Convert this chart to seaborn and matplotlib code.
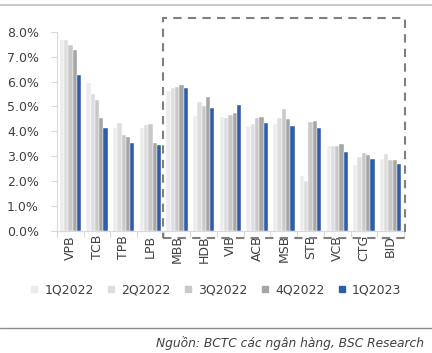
import matplotlib
matplotlib.use("Agg")
import matplotlib.pyplot as plt
from matplotlib.patches import Rectangle
from matplotlib.lines import Line2D
from matplotlib.ticker import FuncFormatter, FixedLocator
import pandas as pd
import seaborn as sns

#%% data
banks = ['VPB', 'TCB', 'TPB', 'LPB', 'MBB', 'HDB', 'VIB', 'ACB', 'MSB', 'STB', 'VCB', 'CTG', 'BID']
quarters = ['1Q2022', '2Q2022', '3Q2022', '4Q2022', '1Q2023']
q1_2022 = [7.67, 5.93, 4.13, 4.15, 5.63, 4.63, 4.56, 4.23, 4.29, 2.19, 3.41, 2.63, 2.87]
q2_2022 = [7.67, 5.49, 4.33, 4.27, 5.75, 5.16, 4.53, 4.31, 4.55, 1.99, 3.41, 2.96, 3.08]
q3_2022 = [7.47, 5.24, 3.85, 4.29, 5.80, 5.03, 4.64, 4.52, 4.89, 4.36, 3.43, 3.12, 2.83]
q4_2022 = [7.27, 4.52, 3.79, 3.55, 5.85, 5.36, 4.75, 4.57, 4.49, 4.43, 3.51, 3.03, 2.83]
q1_2023 = [6.27, 4.13, 3.55, 3.44, 5.75, 4.92, 5.04, 4.32, 4.20, 4.13, 3.17, 2.89, 2.67]
colors = ['#ECECEC', '#DEDEDE', '#C9C9C9', '#A6A6A6', '#2E5DAA']

rows = []
for q, vals in zip(quarters, [q1_2022, q2_2022, q3_2022, q4_2022, q1_2023]):
    for b, v in zip(banks, vals):
        rows.append({'bank': b, 'quarter': q, 'value': v})
df = pd.DataFrame(rows)

#%% make graph
sns.set_style("white")
plt.rcParams['font.family'] = ['DejaVu Sans']
fig = plt.figure(figsize=(4.32, 3.53), dpi=100)
ax = fig.add_axes([0.132, 0.346, 0.803, 0.564])

sns.barplot(data=df, x='bank', y='value', hue='quarter', hue_order=quarters,
            palette=colors, width=0.8, ax=ax, legend=False, linewidth=0.3,
            edgecolor='white', saturation=1)

ax.set_ylim(0, 8)
ax.set_xlim(-0.5, len(banks) - 0.5)
ax.set_yticks(range(0, 9))
ax.yaxis.set_major_formatter(FuncFormatter(lambda v, p: f'{v:.1f}%'))
ax.tick_params(axis='y', left=True, length=4, width=0.8, color='#D9D9D9', direction='out',
               labelsize=9, labelcolor='#404040', pad=9)
ax.tick_params(axis='x', which='major', length=0, labelsize=9, labelcolor='#404040',
               rotation=90, pad=3)
ax.xaxis.set_minor_locator(FixedLocator([i - 0.5 for i in range(len(banks) + 1)]))
ax.tick_params(axis='x', which='minor', bottom=True, length=4, color='#D9D9D9', width=0.8)
ax.set_xlabel('')
ax.set_ylabel('')
for s in ['top', 'right']:
    ax.spines[s].set_visible(False)
for s in ['left', 'bottom']:
    ax.spines[s].set_color('#D9D9D9')
    ax.spines[s].set_linewidth(0.8)

# dashed box around the last group of banks
fig.patches.append(Rectangle((0.377, 0.326), 0.561, 0.623, transform=fig.transFigure,
                             fill=False, edgecolor='#7F7F7F', linestyle=(0, (4, 3)),
                             linewidth=1.5))

# legend
handles = [Line2D([], [], marker='s', linestyle='', markersize=5,
                  markerfacecolor=c, markeredgecolor=c) for c in colors]
fig.legend(handles, quarters, loc='center', bbox_to_anchor=(0.5, 1 - 290 / 353),
           ncol=5, frameon=False, fontsize=9, handlelength=0.6, handletextpad=0.5,
           columnspacing=1.1, labelcolor='#404040')

# frame lines and source
fig.add_artist(Line2D([0, 1], [1 - 5 / 353] * 2, color='#BFBFBF', linewidth=1.2))
fig.add_artist(Line2D([0, 1], [1 - 328 / 353] * 2, color='#8C8C8C', linewidth=1.0))
fig.text(0.982, 1 - 343 / 353, 'Nguồn: BCTC các ngân hàng, BSC Research',
         ha='right', va='center', fontsize=8.8, style='italic', color='#404040')

plt.savefig('out.png', dpi=100)
